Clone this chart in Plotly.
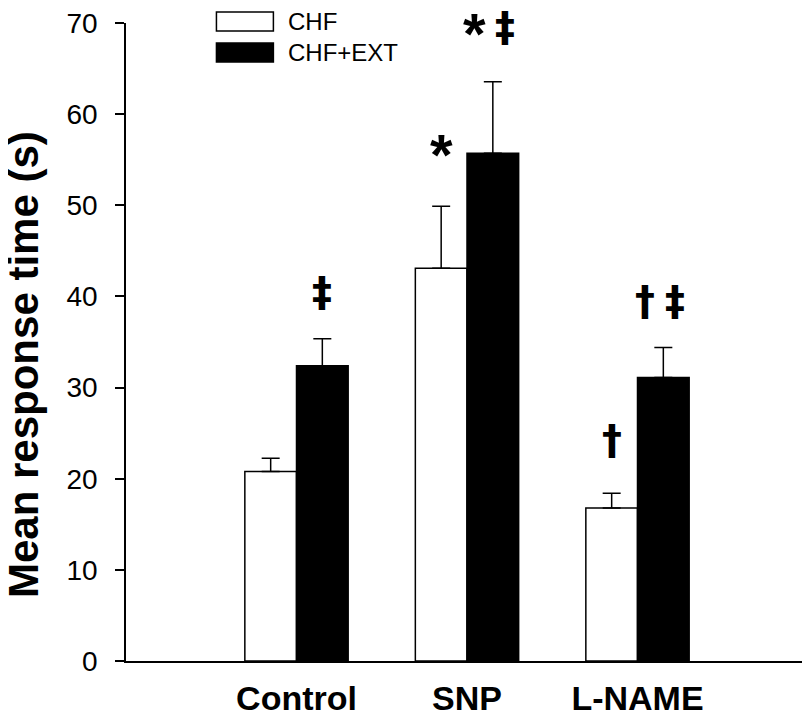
import plotly.graph_objects as go

categories = ["Control", "SNP", "L-NAME"]
chf_mean = [20.8, 43.1, 16.8]
chf_sem = [1.45, 6.8, 1.6]
ext_mean = [32.4, 55.7, 31.1]
ext_sem = [2.95, 7.85, 3.3]
chf_sig = ["", "*", "†"]
ext_sig = ["‡", "*‡", "†‡"]
series_names = ["CHF", "CHF+EXT"]
y_ticks = [0, 10, 20, 30, 40, 50, 60, 70]

# vertical gap (px) from error-bar top to symbol centre
chf_gap = [0, 59, 53]
ext_gap = [47, 55, 46]

FONT = "Arial, Liberation Sans, Helvetica, sans-serif"
SYM_FONT = "DejaVu Sans, Arial, sans-serif"

fig = go.Figure()
fig.add_trace(go.Bar(
    x=categories, y=chf_mean, name=series_names[0],
    marker=dict(color="white", line=dict(color="black", width=1.5)),
    error_y=dict(type="data", array=chf_sem, arrayminus=[0] * 3, symmetric=False,
                 color="black", thickness=1.5, width=9),
    showlegend=False,
))
fig.add_trace(go.Bar(
    x=categories, y=ext_mean, name=series_names[1],
    marker=dict(color="black", line=dict(color="black", width=1.5)),
    error_y=dict(type="data", array=ext_sem, arrayminus=[0] * 3, symmetric=False,
                 color="black", thickness=1.5, width=9),
    showlegend=False,
))

annotations = []
half = 0.151
char_spacing = 30
# per-glyph vertical correction so the glyph (not its text box) is centred
glyph_dy = {"*": -7, "†": 0, "‡": 0}

for i, cat in enumerate(categories):
    for sig, m, e, dx, gap in ((chf_sig[i], chf_mean[i], chf_sem[i], -half, chf_gap[i]),
                               (ext_sig[i], ext_mean[i], ext_sem[i], half, ext_gap[i])):
        n = len(sig)
        for k, ch in enumerate(sig):
            if ch == "*":
                f = dict(family=FONT, size=58, color="black", weight="bold")
            else:
                f = dict(family=SYM_FONT, size=40, color="black", weight="bold")
            annotations.append(dict(
                x=i + dx, y=m + e, xref="x", yref="y", text=ch,
                showarrow=False, yanchor="middle", xanchor="center",
                xshift=(k - (n - 1) / 2) * char_spacing - (3 if n > 1 else 0),
                yshift=gap + glyph_dy[ch],
                font=f,
            ))

# y-axis title
annotations.append(dict(
    x=-0.150, y=0.465, xref="paper", yref="paper", text="<b>Mean response time (s)</b>",
    textangle=-90, showarrow=False, xanchor="center", yanchor="middle",
    font=dict(family=FONT, size=42, color="black"),
))

# legend (manual); coordinates given in screenshot pixels
x0p = lambda px: (px - 125.5) / 682.5
y0p = lambda py: (661 - py) / 638
shapes = [
    dict(type="rect", xref="paper", yref="paper", x0=x0p(216), x1=x0p(273), y0=y0p(31), y1=y0p(12),
         fillcolor="white", line=dict(color="black", width=1.5)),
    dict(type="rect", xref="paper", yref="paper", x0=x0p(216), x1=x0p(273), y0=y0p(62), y1=y0p(43),
         fillcolor="black", line=dict(color="black", width=1.5)),
]
for name, py in zip(series_names, [21.5, 52.5]):
    annotations.append(dict(
        x=x0p(286), y=y0p(py), xref="paper", yref="paper", text=name, showarrow=False,
        xanchor="left", yanchor="middle", font=dict(family=FONT, size=24, color="black"),
    ))

# page body has an 8px margin: figure is sized to fit the 810x725 window
fig.update_layout(
    width=802, height=717,
    margin=dict(l=117.5, r=2, t=15, b=64, autoexpand=False),
    paper_bgcolor="white", plot_bgcolor="white",
    barmode="group", bargap=0.394, bargroupgap=0,
    font=dict(family=FONT, color="black"),
    annotations=annotations, shapes=shapes,
    xaxis=dict(
        range=[-1, 3], showline=True, linecolor="black", linewidth=1.5, ticks="",
        showgrid=False, zeroline=False, automargin=False,
        tickfont=dict(family=FONT, size=34, color="black", weight="bold"),
        ticklabelstandoff=6,
    ),
    yaxis=dict(
        range=[0, 70], tickvals=y_ticks, showline=True, linecolor="black", linewidth=1.5,
        ticks="outside", ticklen=9, tickwidth=1.5, tickcolor="black",
        showgrid=False, zeroline=False, automargin=False,
        tickfont=dict(family=FONT, size=28, color="black"),
        ticklabelstandoff=12, ticklabeloverflow="allow",
    ),
)

fig.write_html("out.html")
